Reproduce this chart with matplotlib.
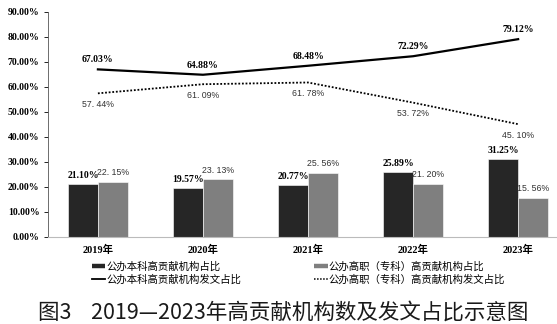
import matplotlib.pyplot as plt
import numpy as np
from matplotlib.lines import Line2D

# data (%)
years = ['2019年', '2020年', '2021年', '2022年', '2023年']
ben_inst = [21.10, 19.57, 20.77, 25.89, 31.25]     # 公办本科高贡献机构占比
zhuan_inst = [22.15, 23.13, 25.56, 21.20, 15.56]   # 公办高职（专科）高贡献机构占比
ben_pub = [67.03, 64.88, 68.48, 72.29, 79.12]      # 公办本科高贡献机构发文占比
zhuan_pub = [57.44, 61.09, 61.78, 53.72, 45.10]    # 公办高职（专科）高贡献机构发文占比
yticks = [0, 10, 20, 30, 40, 50, 60, 70, 80, 90]

serif = ['Liberation Serif', 'Noto Sans CJK SC']
sans = ['Liberation Sans', 'Noto Sans CJK SC']
plt.rcParams['font.family'] = ['Noto Sans CJK SC', 'DejaVu Sans']

fig = plt.figure(figsize=(5.57, 3.24), dpi=100)
ax = fig.add_axes([0.086, 0.269, 0.914, 0.694])

x = np.arange(len(years))
w = 0.286
dark = '#262626'
grey = '#7f7f7f'

ax.bar(x - w / 2, ben_inst, w, color=dark, edgecolor='white', linewidth=0.4)
ax.bar(x + w / 2, zhuan_inst, w, color=grey, edgecolor='white', linewidth=0.4)
ax.plot(x, ben_pub, color='black', lw=1.6)
ax.plot(x, zhuan_pub, color='black', lw=1.3, linestyle=(0, (1, 1)))

for i in range(len(years)):
    ax.annotate(f'{ben_inst[i]:.2f}%', (x[i] - w / 2, ben_inst[i]), xytext=(0, 6),
                textcoords='offset points', ha='center', va='center',
                family=serif, weight='bold', fontsize=7)
    ax.annotate(f'{zhuan_inst[i]:.2f}%'.replace('.', '. '), (x[i] + w / 2, zhuan_inst[i]),
                xytext=(0, 6.5), textcoords='offset points', ha='center', va='center',
                family=sans, fontsize=6.3, color='#333333')
    ax.annotate(f'{ben_pub[i]:.2f}%', (x[i], ben_pub[i]), xytext=(0, 7),
                textcoords='offset points', ha='center', va='center',
                family=serif, weight='bold', fontsize=7)
    ax.annotate(f'{zhuan_pub[i]:.2f}%'.replace('.', '. '), (x[i], zhuan_pub[i]),
                xytext=(0, -8), textcoords='offset points', ha='center', va='center',
                family=sans, fontsize=6.3, color='#333333')

ax.set_xlim(-0.476, 4.37)
ax.set_ylim(0, 90)
ax.set_yticks(yticks)
ax.set_yticklabels([f'{t:.2f}%' for t in yticks], family=serif, weight='bold', fontsize=7)
ax.set_xticks(x)
ax.set_xticklabels(years, family=serif, weight='bold', fontsize=7.5)
ax.tick_params(axis='x', length=0, pad=6)
ax.tick_params(axis='y', length=3, width=0.6, pad=3)
for s in ['top', 'right']:
    ax.spines[s].set_visible(False)
ax.spines['left'].set_color('#555555')
ax.spines['left'].set_linewidth(0.6)
ax.spines['bottom'].set_color('#bbbbbb')
ax.spines['bottom'].set_linewidth(0.8)

handles = [
    Line2D([], [], color=dark, lw=3.2, solid_capstyle='butt'),
    Line2D([], [], color='black', lw=1.3),
    Line2D([], [], color=grey, lw=3.2, solid_capstyle='butt'),
    Line2D([], [], color='black', lw=1.1, linestyle=(0, (1, 1))),
]
labels = ['公办本科高贡献机构占比', '公办本科高贡献机构发文占比',
          '公办高职（专科）高贡献机构占比', '公办高职（专科）高贡献机构发文占比']
fig.legend(handles, labels, ncol=2, loc='center', bbox_to_anchor=(0.536, 1 - 273 / 324),
           frameon=False, fontsize=7.5, handlelength=1.3,
           handletextpad=0.1, columnspacing=7.0, labelspacing=0.25)

fig.text(0.508, 1 - 313 / 324, '图3    2019—2023年高贡献机构数及发文占比示意图',
         ha='center', va='center', fontsize=15.5, color='#1a1a1a')

fig.savefig('out.png', dpi=100)
